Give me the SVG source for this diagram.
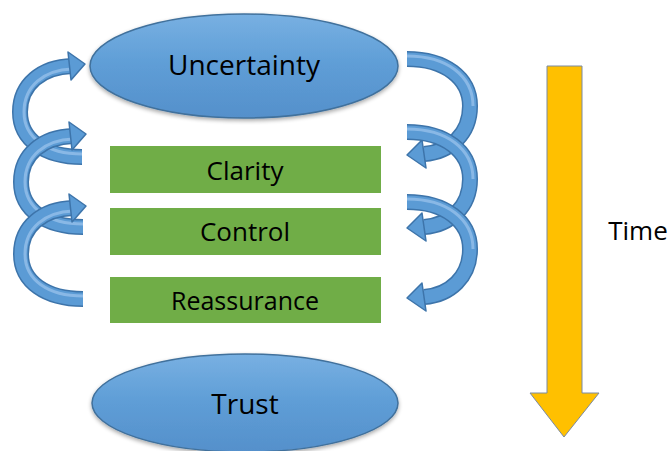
<svg xmlns="http://www.w3.org/2000/svg" xmlns:xlink="http://www.w3.org/1999/xlink" width="672" height="451" viewBox="0 0 672 451">
<style>
.lbl{font-family:"Open Sans","Liberation Sans",sans-serif;fill:#000;text-anchor:middle}
.ell{fill:url(#blueGrad);stroke:#41719c;stroke-width:1.5;filter:url(#shadow)}
.box{fill:#70ad47}
.sh-out{fill:none;stroke:#3d74aa;stroke-width:16}
.sh-in{fill:none;stroke:#5b9bd5;stroke-width:13}
.sh-hi{fill:none;stroke:#9cc5ec;stroke-width:3;opacity:0.7}
.head{fill:#5b9bd5;stroke:#3d74aa;stroke-width:1.5;stroke-linejoin:round}
</style>
<defs>
<linearGradient id="blueGrad" x1="0" y1="0" x2="0" y2="1">
<stop offset="0" stop-color="#78b0e2"/>
<stop offset="0.5" stop-color="#5e9dd6"/>
<stop offset="1" stop-color="#5590cb"/>
</linearGradient>
<filter id="shadow" x="-10%" y="-10%" width="120%" height="130%">
<feGaussianBlur in="SourceAlpha" stdDeviation="2"/>
<feOffset dx="0" dy="2" result="b"/>
<feComponentTransfer><feFuncA type="linear" slope="0.35"/></feComponentTransfer>
<feMerge><feMergeNode/><feMergeNode in="SourceGraphic"/></feMerge>
</filter>
<g id="leftArrow">
<path class="sh-out" d="M 82 157 C 45 157, 20 140, 20 112 C 20 84, 42 67, 72 66"/>
<path class="sh-in" d="M 82 157 C 45 157, 20 140, 20 112 C 20 84, 42 67, 72 66"/>
<path class="sh-hi" d="M 82 154 C 47 154, 24 138, 24 112 C 24 86, 44 70, 72 69"/>
<polygon class="head" points="68,52 85,64 71,80"/>
</g>
<g id="rightArrow">
<path class="sh-out" d="M 407 59 C 445 59, 470 78, 470 106 C 470 134, 450 152, 424 154"/>
<path class="sh-in" d="M 407 59 C 445 59, 470 78, 470 106 C 470 134, 450 152, 424 154"/>
<path class="sh-hi" d="M 407 56 C 447 56, 473 76, 473 106"/>
<polygon class="head" points="422,140 407,155 426,168"/>
</g>
</defs>

<g id="connectors">
<use xlink:href="#leftArrow"/>
<use xlink:href="#leftArrow" transform="translate(1,70)"/>
<use xlink:href="#leftArrow" transform="translate(1,142)"/>
<use xlink:href="#rightArrow"/>
<use xlink:href="#rightArrow" transform="translate(0,73)"/>
<use xlink:href="#rightArrow" transform="translate(0,143)"/>
</g>

<g id="uncertainty">
<ellipse class="ell" cx="244" cy="66" rx="154" ry="52"/>
<text class="lbl" x="244" y="75" font-size="28">Uncertainty</text>
</g>

<g id="clarity">
<rect class="box" x="110" y="146" width="271" height="47"/>
<text class="lbl" x="245" y="180" font-size="26">Clarity</text>
</g>

<g id="control">
<rect class="box" x="110" y="208" width="271" height="47"/>
<text class="lbl" x="245" y="241" font-size="26">Control</text>
</g>

<g id="reassurance">
<rect class="box" x="110" y="277" width="271" height="46"/>
<text class="lbl" x="245" y="310" font-size="25">Reassurance</text>
</g>

<g id="trust">
<ellipse class="ell" cx="245" cy="403" rx="153" ry="49"/>
<text class="lbl" x="245" y="414" font-size="28">Trust</text>
</g>

<g id="time">
<polygon points="547,66 582,66 582,393 599,393 564,437 530,393 547,393" fill="#ffc000" stroke="#7b8aa3" stroke-width="1"/>
<text class="lbl" x="638" y="240" font-size="26">Time</text>
</g>
</svg>
